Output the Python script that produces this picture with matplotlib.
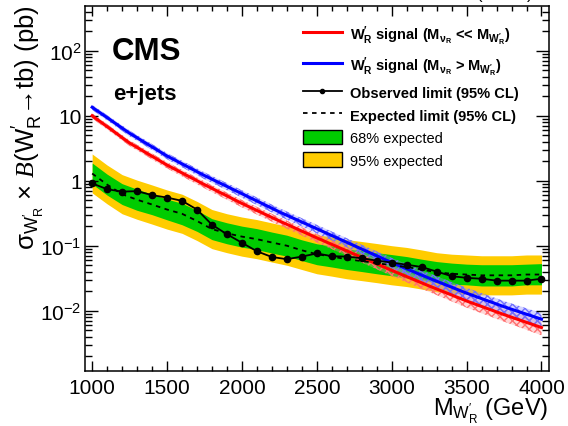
import numpy as np
import matplotlib
matplotlib.use("Agg")
import matplotlib.pyplot as plt
from matplotlib.lines import Line2D
from matplotlib.patches import Patch
from matplotlib.ticker import MultipleLocator, LogLocator, NullFormatter

plt.rcParams['font.family'] = ['Liberation Sans', 'DejaVu Sans']
plt.rcParams['mathtext.fontset'] = 'custom'
plt.rcParams['mathtext.rm'] = 'Liberation Sans'
plt.rcParams['mathtext.it'] = 'Liberation Serif:italic'
plt.rcParams['mathtext.bf'] = 'Liberation Sans:bold'
plt.rcParams['mathtext.default'] = 'regular'
plt.rcParams['hatch.linewidth'] = 1.0

# limits, one point every 100 GeV (pb)
masses = np.arange(1000, 4001, 100)
observed = [0.91, 0.74, 0.68, 0.69, 0.60, 0.55, 0.49, 0.36, 0.21, 0.15,
            0.111, 0.082, 0.067, 0.062, 0.068, 0.076, 0.069, 0.068, 0.064, 0.059,
            0.055, 0.051, 0.047, 0.040, 0.034, 0.032, 0.031, 0.029, 0.029, 0.029,
            0.031]
expected = [1.29, 0.87, 0.62, 0.51, 0.43, 0.36, 0.31, 0.24, 0.18, 0.155,
            0.138, 0.126, 0.112, 0.100, 0.085, 0.074, 0.068, 0.062, 0.058, 0.054,
            0.050, 0.047, 0.043, 0.039, 0.037, 0.036, 0.035, 0.035, 0.035, 0.036,
            0.036]
band68_hi = [1.87, 1.26, 0.90, 0.74, 0.62, 0.52, 0.45, 0.35, 0.26, 0.225,
             0.20, 0.183, 0.162, 0.145, 0.123, 0.107, 0.099, 0.090, 0.084, 0.078,
             0.073, 0.068, 0.062, 0.057, 0.054, 0.052, 0.051, 0.051, 0.051, 0.052,
             0.053]
band68_lo = [0.89, 0.60, 0.43, 0.35, 0.30, 0.25, 0.21, 0.166, 0.124, 0.107,
             0.095, 0.087, 0.077, 0.069, 0.059, 0.051, 0.047, 0.043, 0.040, 0.037,
             0.0345, 0.032, 0.030, 0.027, 0.0255, 0.025, 0.024, 0.024, 0.024, 0.025,
             0.025]
band95_hi = [2.58, 1.74, 1.24, 1.02, 0.86, 0.72, 0.62, 0.48, 0.36, 0.31,
             0.276, 0.252, 0.224, 0.20, 0.17, 0.148, 0.136, 0.124, 0.116, 0.108,
             0.100, 0.094, 0.086, 0.078, 0.074, 0.072, 0.070, 0.070, 0.070, 0.072,
             0.072]
band95_lo = [0.65, 0.44, 0.31, 0.255, 0.215, 0.18, 0.155, 0.12, 0.09, 0.078,
             0.069, 0.063, 0.056, 0.050, 0.043, 0.037, 0.034, 0.031, 0.029, 0.027,
             0.025, 0.0235, 0.0215, 0.0195, 0.0185, 0.018, 0.0175, 0.0175, 0.0175, 0.018,
             0.018]

# theory cross sections (pb)
sig_masses = np.arange(1000, 4001, 250)
sig_light_nu = [10.0, 3.80, 1.74, 0.87, 0.447, 0.240, 0.132, 0.074, 0.0417,
                0.024, 0.0141, 0.0087, 0.0055]
sig_heavy_nu = [13.5, 5.37, 2.40, 1.20, 0.631, 0.331, 0.182, 0.100, 0.055,
                0.0316, 0.0186, 0.0115, 0.0074]
sig_unc = [0.09, 0.10, 0.11, 0.12, 0.13, 0.14, 0.15, 0.16, 0.18, 0.19, 0.21, 0.22, 0.24]

fig = plt.figure(figsize=(5.68, 4.27), dpi=100)
ax = fig.add_axes([0.1496, 0.1288, 0.8169, 0.854])

ax.fill_between(masses, band95_lo, band95_hi, color='#ffcc00', lw=0)
ax.fill_between(masses, band68_lo, band68_hi, color='#00cc00', lw=0)

# signal curves with their uncertainty hatching
for vals, col, hcol, fcol in [(sig_light_nu, 'red', '#ff7070', (1, 0.55, 0.55, 0.35)),
                              (sig_heavy_nu, 'blue', '#7070ff', (0.55, 0.55, 1, 0.35))]:
    vals = np.array(vals)
    unc = np.array(sig_unc)
    ax.fill_between(sig_masses, vals * (1 - unc), vals * (1 + unc),
                    facecolor=fcol, edgecolor=hcol, hatch='xxxx', lw=0)
    ax.plot(sig_masses, vals, color=col, lw=2.2)

ax.plot(masses, expected, color='black', lw=1.3, ls=(0, (2.5, 2.5)))
ax.plot(masses, observed, color='black', lw=1.3, marker='o', ms=4.5)

ax.set_yscale('log')
ax.set_xlim(952, 4050)
ax.set_ylim(1.18e-3, 482)
ax.xaxis.set_major_locator(MultipleLocator(500))
ax.xaxis.set_minor_locator(MultipleLocator(100))
ax.set_yticks([1e-2, 1e-1, 1, 10, 100])
ax.set_yticklabels([r'$10^{-2}$', r'$10^{-1}$', '1', '10', r'$10^{2}$'])
ax.yaxis.set_minor_locator(LogLocator(base=10, subs=np.arange(2, 10), numticks=20))
ax.yaxis.set_minor_formatter(NullFormatter())
ax.tick_params(which='both', direction='in', top=True, right=True, labelsize=15, width=1)
ax.tick_params(axis='x', which='major', length=7.5, pad=5)
ax.tick_params(axis='x', which='minor', length=3.8)
ax.tick_params(axis='y', which='major', length=9.5, pad=2.5)
ax.tick_params(axis='y', which='minor', length=4.8)
for sp in ax.spines.values():
    sp.set_linewidth(1.1)

ax.text(0.058, 0.877, 'CMS', fontsize=22.5, weight='bold', va='center', transform=ax.transAxes)
ax.text(0.06, 0.76, 'e+jets', fontsize=16, weight='bold', va='center', transform=ax.transAxes)
fig.text(533 / 568, 1 + 1 / 427, r'19.7 fb$^{-1}$ (8 TeV)', ha='right', va='baseline', fontsize=12)

ax.text(-0.12, 1.006,
        r'$\sigma_{W^{\prime}_{R}}$ $\times$ $\mathit{B}$(W$^{\prime}_{R}$→tb) (pb)',
        rotation=90, ha='center', va='top', fontsize=18.5, transform=ax.transAxes)
ax.text(0.998, -0.068, r'M$_{W^{\prime}_{R}}$ (GeV)', ha='right', va='top',
        fontsize=17, transform=ax.transAxes)

handles = [Line2D([], [], color='red', lw=2.2),
           Line2D([], [], color='blue', lw=2.2),
           Line2D([], [], color='black', lw=1.3, marker='o', ms=3),
           Line2D([], [], color='black', lw=1.3, ls=(0, (2.5, 2.5))),
           Patch(facecolor='#00cc00', edgecolor='black', lw=1),
           Patch(facecolor='#ffcc00', edgecolor='black', lw=1)]
labels = [r"$W^{\prime}_{R}$ signal (M$_{\nu_{R}}$ << M$_{W^{\prime}_{R}}$)",
          r"$W^{\prime}_{R}$ signal (M$_{\nu_{R}}$ > M$_{W^{\prime}_{R}}$)",
          'Observed limit (95% CL)',
          'Expected limit (95% CL)',
          '68% expected',
          '95% expected']
leg = ax.legend(handles, labels, loc='upper left', bbox_to_anchor=(0.469, 0.955),
                frameon=False, borderpad=0, borderaxespad=0,
                prop={'weight': 'bold', 'size': 10.5},
                handlelength=2.7, handleheight=1.15, handletextpad=0.55, labelspacing=0.5)
for t in leg.get_texts()[4:]:
    t.set_fontweight('normal')

fig.savefig('out.png', dpi=100)
